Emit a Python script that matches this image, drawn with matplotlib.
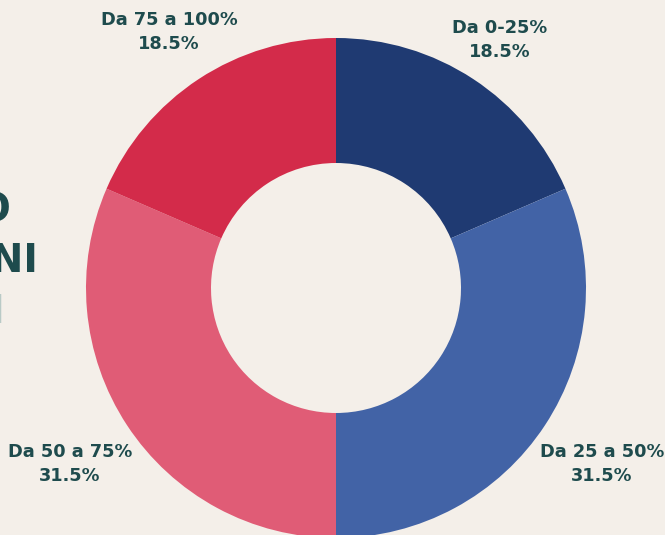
import matplotlib
matplotlib.use("Agg")
import matplotlib.pyplot as plt

categories = ["Da 0-25%", "Da 25 a 50%", "Da 50 a 75%", "Da 75 a 100%"]
values = [18.5, 31.5, 31.5, 18.5]
colors = ["#1F3A72", "#4263A6", "#E05C76", "#D32B4A"]
value_labels = ["18.5%", "31.5%", "31.5%", "18.5%"]

BG = "#F4EFE9"
TXT = "#1E4B4D"

W, H = 665, 535
fig = plt.figure(figsize=(W / 100, H / 100), dpi=100, facecolor=BG)
ax = fig.add_axes([0, 0, 1, 1])
ax.set_facecolor(BG)

ax.pie(values, colors=colors, startangle=90, counterclock=False,
       center=(336, H - 288), radius=250,
       wedgeprops=dict(width=125, edgecolor="none"), frame=True)
ax.set_xlim(0, W)
ax.set_ylim(0, H)
ax.set_aspect("equal")
ax.axis("off")

# label positions (pixel coords, y from top)
label_pos = [(500, 28), (602, 452), (70, 452), (169, 20)]
font = "DejaVu Sans"
for cat, val, (x, y) in zip(categories, value_labels, label_pos):
    ax.text(x, H - y, cat, ha="center", va="center", fontsize=12.8,
            fontweight="bold", color=TXT, family=font)
    ax.text(x, H - y - 24, val, ha="center", va="center", fontsize=12.8,
            fontweight="bold", color=TXT, family=font)

# partially visible title on the left edge
fig.text(11 / W, 1 - 210 / H, "LAVORO", ha="right", va="center",
         fontsize=28, fontweight="bold", color=TXT, family=font)
fig.text(38 / W, 1 - 261 / H, "ITALIANI", ha="right", va="center",
         fontsize=28, fontweight="bold", color=TXT, family=font)
fig.text(6 / W, 1 - 312 / H, "AZIENDALI", ha="right", va="center",
         fontsize=28, fontweight="bold", color="#B9CAC6", family=font)

fig.savefig("out.png", dpi=100, facecolor=BG)
